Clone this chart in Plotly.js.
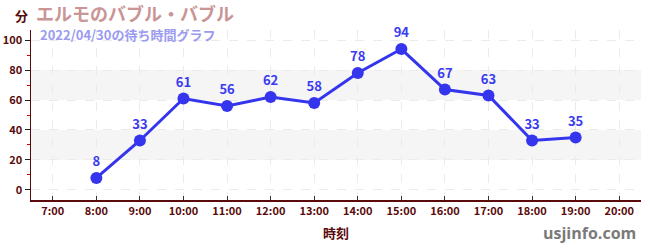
<!DOCTYPE html>
<html><head><meta charset="utf-8">
<script src="https://cdn.plot.ly/plotly-3.0.1.min.js"></script>
<style>body{margin:0;background:#fff}#c{width:650px;height:250px}</style>
</head><body><div id="c"></div>
<script>
const hours = [8, 9, 10, 11, 12, 13, 14, 15, 16, 17, 18, 19];
const waits = [8, 33, 61, 56, 62, 58, 78, 94, 67, 63, 33, 35];
const tickHours = [7, 8, 9, 10, 11, 12, 13, 14, 15, 16, 17, 18, 19, 20];
const tickLabels = tickHours.map(h => h + ':00');
const bands = [[20, 40], [60, 80]];

const F = '"Noto Sans CJK JP", "Noto Sans", sans-serif';
const axisColor = '#5a0a0a';

const trace = {
  x: hours, y: waits, type: 'scatter', mode: 'lines+markers+text',
  text: waits.map(String), textposition: 'top center',
  textfont: {family: F, size: 13, color: '#3a3af0', weight: 'bold'},
  line: {color: '#3535ee', width: 3},
  marker: {color: '#3535ee', size: 12},
  hoverinfo: 'none', cliponaxis: false
};

const shapes = bands.map(b => ({
  type: 'rect', xref: 'paper', yref: 'y', x0: 0, x1: 1, y0: b[0], y1: b[1],
  fillcolor: '#f5f5f5', line: {width: 0}, layer: 'below'
}));

const layout = {
  width: 650, height: 250,
  margin: {l: 31, r: 9, t: 30, b: 50},
  paper_bgcolor: '#fff', plot_bgcolor: '#fff',
  showlegend: false,
  shapes: shapes,
  xaxis: {
    range: [6.5, 20.5], tickvals: tickHours, ticktext: tickLabels,
    showline: true, linecolor: axisColor, linewidth: 1.5,
    ticks: 'inside', ticklen: 4, tickcolor: '#333',
    tickfont: {family: F, size: 11, color: axisColor, weight: 'bold'},
    showgrid: true, gridcolor: '#ebebeb', griddash: 'dash', gridwidth: 1,
    zeroline: false, fixedrange: true,
    title: {text: '時刻', font: {family: F, size: 13, color: axisColor, weight: 'bold'}, standoff: 12}
  },
  yaxis: {
    range: [-6.7, 106.7], tickvals: [0, 20, 40, 60, 80, 100],
    showline: true, linecolor: axisColor, linewidth: 1.5,
    ticks: 'outside', ticklen: 5, tickcolor: '#222',
    tickfont: {family: F, size: 11, color: axisColor, weight: 'bold'},
    showgrid: true, gridcolor: '#ebebeb', griddash: 'dash', gridwidth: 1,
    minor: {dtick: 10, ticks: 'outside', ticklen: 3, tickcolor: '#d00000', showgrid: false},
    zeroline: false, fixedrange: true
  },
  annotations: [
    {text: '分', xref: 'paper', yref: 'paper', x: -0.029, y: 1.0, yshift: 15, showarrow: false,
     xanchor: 'left', yanchor: 'middle', font: {family: F, size: 13, color: axisColor, weight: 'bold'}},
    {text: 'エルモのバブル・バブル', xref: 'paper', yref: 'paper', x: 0.005, y: 1, yshift: 17, showarrow: false,
     xanchor: 'left', yanchor: 'middle', font: {family: F, size: 18, color: '#c99595', weight: 'bold'}},
    {text: '2022/04/30の待ち時間グラフ', xref: 'paper', yref: 'paper', x: 0.012, y: 1, yshift: -4, showarrow: false,
     xanchor: 'left', yanchor: 'middle', font: {family: F, size: 13, color: '#9b9bf0', weight: 'bold'}},
    {text: 'usjinfo.com', xref: 'paper', yref: 'paper', x: 0.995, y: 0, yshift: -33, showarrow: false,
     xanchor: 'right', yanchor: 'middle', font: {family: '"Open Sans", "Noto Sans", sans-serif', size: 16, color: '#7a7a7a', weight: 'bold'}}
  ]
};

Plotly.newPlot('c', [trace], layout, {displayModeBar: false, staticPlot: true});
</script></body></html>
